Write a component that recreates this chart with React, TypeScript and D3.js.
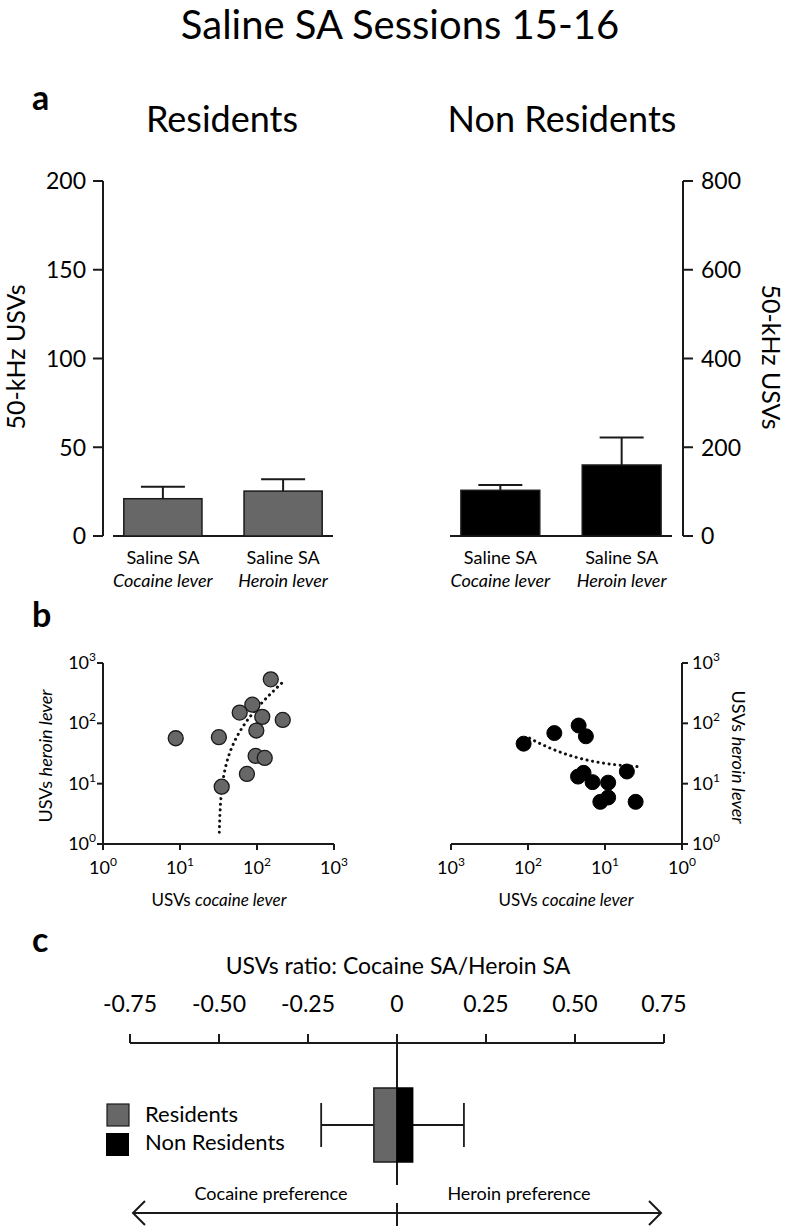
import React from "react";
import * as d3 from "d3";

// ---------- DATA ----------
const chartTitle = "Saline SA Sessions 15-16";
const groupNames = ["Residents", "Non Residents"];
const barCatTop = ["Saline SA", "Saline SA"];
const barCatBottom = ["Cocaine lever", "Heroin lever"];
const residentsMean = [21, 25.3];
const residentsSem = [6.7, 6.7];
const nonResidentsMean = [103, 160];
const nonResidentsSem = [12, 62];
const residentsTicks = [0, 50, 100, 150, 200];
const nonResidentsTicks = [0, 200, 400, 600, 800];

const residentsCocaine = [8.8, 32, 34.8, 59.6, 87, 151, 117, 216, 98, 96, 126, 74];
const residentsHeroin = [56.6, 59, 8.9, 151, 204, 537, 128, 114, 76, 28.8, 26.7, 14.5];
const nonResCocaine = [114, 45.5, 22, 17.7, 22.4, 19, 14.5, 9.1, 9.1, 11.5, 5.2, 4.0];
const nonResHeroin = [46, 69, 92, 61, 13.1, 15.1, 10.6, 10.4, 5.9, 5.0, 15.9, 5.0];
const logTicks = [1, 10, 100, 1000];
// linear regression fits (heroin = slope * cocaine + intercept), drawn over observed x-range
const residentsFit = { slope: 2.61, intercept: -83, xFrom: 32.4, xTo: 209 };
const nonResFit = { slope: 0.411, intercept: 17.6, xFrom: 3.84, xTo: 108 };

const ratioTitle = "USVs ratio: Cocaine SA/Heroin SA";
const ratioTicks = [-0.75, -0.5, -0.25, 0, 0.25, 0.5, 0.75];
const ratioMean = [-0.065, 0.044];
const ratioSem = [0.148, 0.144];
const prefLabels = ["Cocaine preference", "Heroin preference"];

// ---------- STYLE ----------
const FONT = "Lato, 'Open Sans', sans-serif";
const GREY = "#676767";
const DARK = "#1a1a1a";

function sup(n: number) {
  return String(Math.round(Math.log10(n)));
}

function LogLabel({ x, y, v, anchor }: { x: number; y: number; v: number; anchor: string }) {
  return (
    <text x={x} y={y} textAnchor={anchor as any} fontSize={18} fontFamily={FONT}>
      10
      <tspan fontSize={12} dy={-8}>{sup(v)}</tspan>
    </text>
  );
}

export default function App() {
  // ----- panel a -----
  const yRes = d3.scaleLinear().domain([0, 200]).range([536, 181]);
  const yNon = d3.scaleLinear().domain([0, 800]).range([536, 181]);
  const idx = barCatBottom;
  const xRes = d3.scaleBand<string>().domain(idx).range([113, 333]).paddingInner(0.35).paddingOuter(0.09);
  const xNon = d3.scaleBand<string>().domain(idx).range([450, 672]).paddingInner(0.35).paddingOuter(0.09);
  const capHalf = 22;

  // ----- panel b -----
  const xLogL = d3.scaleLog().domain([1, 1000]).range([103, 334]);
  const yLogL = d3.scaleLog().domain([1, 1000]).range([844, 663]);
  const xLogR = d3.scaleLog().domain([1, 1000]).range([682, 451]);
  const yLogR = d3.scaleLog().domain([1, 1000]).range([844, 663]);

  const fitPath = (fit: typeof residentsFit, xs: any, ys: any) => {
    const pts = d3.range(0, 101).map((i) => {
      const lx = Math.log10(fit.xFrom) + (i / 100) * (Math.log10(fit.xTo) - Math.log10(fit.xFrom));
      const xv = Math.pow(10, lx);
      return [xv, fit.slope * xv + fit.intercept] as [number, number];
    }).filter((p) => p[1] > 0);
    return d3.line<[number, number]>().x((d) => xs(d[0])).y((d) => ys(d[1]))(pts) || "";
  };

  // ----- panel c -----
  const xR = d3.scaleLinear().domain([-0.75, 0.75]).range([130, 664]);
  const axisY = 1043;
  const boxTop = 1088;
  const boxH = 74;
  const whiskY = boxTop + boxH / 2;

  const bars = (
    means: number[], sems: number[], xs: d3.ScaleBand<string>, ys: d3.ScaleLinear<number, number>, fill: string
  ) =>
    idx.map((c, i) => {
      const x0 = xs(c)!;
      const bw = xs.bandwidth();
      const cx = x0 + bw / 2;
      return (
        <g key={c}>
          <line x1={cx} x2={cx} y1={ys(means[i])} y2={ys(means[i] + sems[i])} stroke={DARK} strokeWidth={2} />
          <line x1={cx - capHalf} x2={cx + capHalf} y1={ys(means[i] + sems[i])} y2={ys(means[i] + sems[i])} stroke={DARK} strokeWidth={2} />
          <rect x={x0} y={ys(means[i])} width={bw} height={ys(0) - ys(means[i])} fill={fill} stroke={DARK} strokeWidth={1.5} />
        </g>
      );
    });

  const catLabels = (xs: d3.ScaleBand<string>) =>
    idx.map((c, i) => {
      const cx = xs(c)! + xs.bandwidth() / 2;
      return (
        <g key={c}>
          <text x={cx} y={564} textAnchor="middle" fontSize={18} fontFamily={FONT}>{barCatTop[i]}</text>
          <text x={cx} y={587} textAnchor="middle" fontSize={18} fontStyle="italic" fontFamily={FONT}>{barCatBottom[i]}</text>
        </g>
      );
    });

  return (
    <svg width={788} height={1226} style={{ position: "absolute", left: 0, top: 0, background: "#fff" }} fontFamily={FONT}>
      <rect x={0} y={0} width={788} height={1226} fill="#fff" />
      <text x={400} y={39} textAnchor="middle" fontSize={40}>{chartTitle}</text>

      {/* ---------- panel a ---------- */}
      <text x={32} y={110} fontSize={34} fontWeight="bold">a</text>
      <text x={222} y={132} textAnchor="middle" fontSize={36}>{groupNames[0]}</text>
      <text x={562} y={132} textAnchor="middle" fontSize={36}>{groupNames[1]}</text>

      {/* left axis */}
      <line x1={103} x2={103} y1={yRes(200)} y2={yRes(0)} stroke={DARK} strokeWidth={2} />
      {residentsTicks.map((t) => (
        <g key={t}>
          <line x1={93} x2={103} y1={yRes(t)} y2={yRes(t)} stroke={DARK} strokeWidth={2} />
          <text x={86} y={yRes(t)} dy="0.36em" textAnchor="end" fontSize={23}>{t}</text>
        </g>
      ))}
      <text transform={`translate(25,357) rotate(-90)`} textAnchor="middle" fontSize={25}>50-kHz USVs</text>
      <line x1={113} x2={333} y1={yRes(0)} y2={yRes(0)} stroke={DARK} strokeWidth={2} />
      {bars(residentsMean, residentsSem, xRes, yRes, GREY)}
      {catLabels(xRes)}

      {/* right axis */}
      <line x1={683} x2={683} y1={yNon(800)} y2={yNon(0)} stroke={DARK} strokeWidth={2} />
      {nonResidentsTicks.map((t) => (
        <g key={t}>
          <line x1={683} x2={693} y1={yNon(t)} y2={yNon(t)} stroke={DARK} strokeWidth={2} />
          <text x={701} y={yNon(t)} dy="0.36em" textAnchor="start" fontSize={23}>{t}</text>
        </g>
      ))}
      <text transform={`translate(762,357) rotate(90)`} textAnchor="middle" fontSize={25}>50-kHz USVs</text>
      <line x1={450} x2={672} y1={yNon(0)} y2={yNon(0)} stroke={DARK} strokeWidth={2} />
      {bars(nonResidentsMean, nonResidentsSem, xNon, yNon, "#000")}
      {catLabels(xNon)}

      {/* ---------- panel b ---------- */}
      <text x={32} y={627} fontSize={34} fontWeight="bold">b</text>
      {/* left scatter */}
      <line x1={103} x2={103} y1={yLogL(1000)} y2={yLogL(1)} stroke={DARK} strokeWidth={2} />
      <line x1={103} x2={334} y1={yLogL(1)} y2={yLogL(1)} stroke={DARK} strokeWidth={2} />
      {logTicks.map((t) => (
        <g key={"l" + t}>
          <line x1={97} x2={103} y1={yLogL(t)} y2={yLogL(t)} stroke={DARK} strokeWidth={2} />
          <line x1={xLogL(t)} x2={xLogL(t)} y1={844} y2={850} stroke={DARK} strokeWidth={2} />
          <LogLabel x={96} y={yLogL(t) + 6} v={t} anchor="end" />
          <LogLabel x={xLogL(t)} y={874} v={t} anchor="middle" />
        </g>
      ))}
      <path d={fitPath(residentsFit, xLogL, yLogL)} fill="none" stroke="#111" strokeWidth={3} strokeDasharray="0.1 5.5" strokeLinecap="round" />
      {residentsCocaine.map((c, i) => (
        <circle key={i} cx={xLogL(c)} cy={yLogL(residentsHeroin[i])} r={7.5} fill={GREY} stroke={DARK} strokeWidth={1.3} />
      ))}
      <text x={219} y={906} textAnchor="middle" fontSize={17}>
        USVs <tspan fontStyle="italic">cocaine lever</tspan>
      </text>
      <text transform={`translate(52,756) rotate(-90)`} textAnchor="middle" fontSize={18}>
        USVs <tspan fontStyle="italic">heroin lever</tspan>
      </text>

      {/* right scatter */}
      <line x1={682} x2={682} y1={yLogR(1000)} y2={yLogR(1)} stroke={DARK} strokeWidth={2} />
      <line x1={451} x2={682} y1={yLogR(1)} y2={yLogR(1)} stroke={DARK} strokeWidth={2} />
      {logTicks.map((t) => (
        <g key={"r" + t}>
          <line x1={682} x2={688} y1={yLogR(t)} y2={yLogR(t)} stroke={DARK} strokeWidth={2} />
          <line x1={xLogR(t)} x2={xLogR(t)} y1={844} y2={850} stroke={DARK} strokeWidth={2} />
          <LogLabel x={692} y={yLogR(t) + 6} v={t} anchor="start" />
          <LogLabel x={xLogR(t)} y={874} v={t} anchor="middle" />
        </g>
      ))}
      <path d={fitPath(nonResFit, xLogR, yLogR)} fill="none" stroke="#111" strokeWidth={3} strokeDasharray="0.1 5.5" strokeLinecap="round" />
      {nonResCocaine.map((c, i) => (
        <circle key={i} cx={xLogR(c)} cy={yLogR(nonResHeroin[i])} r={7.5} fill="#000" stroke="#000" strokeWidth={1} />
      ))}
      <text x={566} y={906} textAnchor="middle" fontSize={17}>
        USVs <tspan fontStyle="italic">cocaine lever</tspan>
      </text>
      <text transform={`translate(732,757) rotate(90)`} textAnchor="middle" fontSize={18}>
        USVs <tspan fontStyle="italic">heroin lever</tspan>
      </text>

      {/* ---------- panel c ---------- */}
      <text x={32} y={952} fontSize={34} fontWeight="bold">c</text>
      <text x={398} y={974} textAnchor="middle" fontSize={23}>{ratioTitle}</text>
      <line x1={xR(-0.75)} x2={xR(0.75)} y1={axisY} y2={axisY} stroke={DARK} strokeWidth={2} />
      {ratioTicks.map((t) => (
        <g key={t}>
          <line x1={xR(t)} x2={xR(t)} y1={axisY - 9} y2={axisY} stroke={DARK} strokeWidth={2} />
          <text x={xR(t)} y={1012} textAnchor="middle" fontSize={23}>{t === 0 ? "0" : t.toFixed(2)}</text>
        </g>
      ))}
      {/* zero line */}
      <line x1={xR(0)} x2={xR(0)} y1={axisY} y2={1185} stroke={DARK} strokeWidth={2} />
      <line x1={xR(0)} x2={xR(0)} y1={1203} y2={1226} stroke={DARK} strokeWidth={2} />
      {/* whiskers */}
      <line x1={xR(ratioMean[0] - ratioSem[0])} x2={xR(ratioMean[0])} y1={whiskY} y2={whiskY} stroke={DARK} strokeWidth={1.8} />
      <line x1={xR(ratioMean[0] - ratioSem[0])} x2={xR(ratioMean[0] - ratioSem[0])} y1={whiskY - 22} y2={whiskY + 22} stroke={DARK} strokeWidth={1.8} />
      <line x1={xR(ratioMean[1])} x2={xR(ratioMean[1] + ratioSem[1])} y1={whiskY} y2={whiskY} stroke={DARK} strokeWidth={1.8} />
      <line x1={xR(ratioMean[1] + ratioSem[1])} x2={xR(ratioMean[1] + ratioSem[1])} y1={whiskY - 22} y2={whiskY + 22} stroke={DARK} strokeWidth={1.8} />
      {/* boxes */}
      <rect x={xR(ratioMean[0])} y={boxTop} width={xR(0) - xR(ratioMean[0])} height={boxH} fill={GREY} stroke={DARK} strokeWidth={1.5} />
      <rect x={xR(0)} y={boxTop} width={xR(ratioMean[1]) - xR(0)} height={boxH} fill="#000" stroke="#000" strokeWidth={1.5} />
      {/* legend */}
      <rect x={107} y={1104} width={22} height={22} fill={GREY} stroke={DARK} strokeWidth={1.2} />
      <rect x={106} y={1133} width={23} height={23} fill="#000" />
      <text x={145} y={1122} fontSize={22}>{groupNames[0]}</text>
      <text x={145} y={1150} fontSize={22}>{groupNames[1]}</text>
      {/* preference arrows */}
      <text x={271} y={1200} textAnchor="middle" fontSize={18}>{prefLabels[0]}</text>
      <text x={519} y={1200} textAnchor="middle" fontSize={18}>{prefLabels[1]}</text>
      <line x1={xR(-0.75) + 3} x2={xR(0.75) - 3} y1={1213} y2={1213} stroke={DARK} strokeWidth={2} />
      <polyline points={`${xR(-0.75) + 15},1201 ${xR(-0.75) + 3},1213 ${xR(-0.75) + 15},1225`} fill="none" stroke={DARK} strokeWidth={2} />
      <polyline points={`${xR(0.75) - 15},1201 ${xR(0.75) - 3},1213 ${xR(0.75) - 15},1225`} fill="none" stroke={DARK} strokeWidth={2} />
    </svg>
  );
}
